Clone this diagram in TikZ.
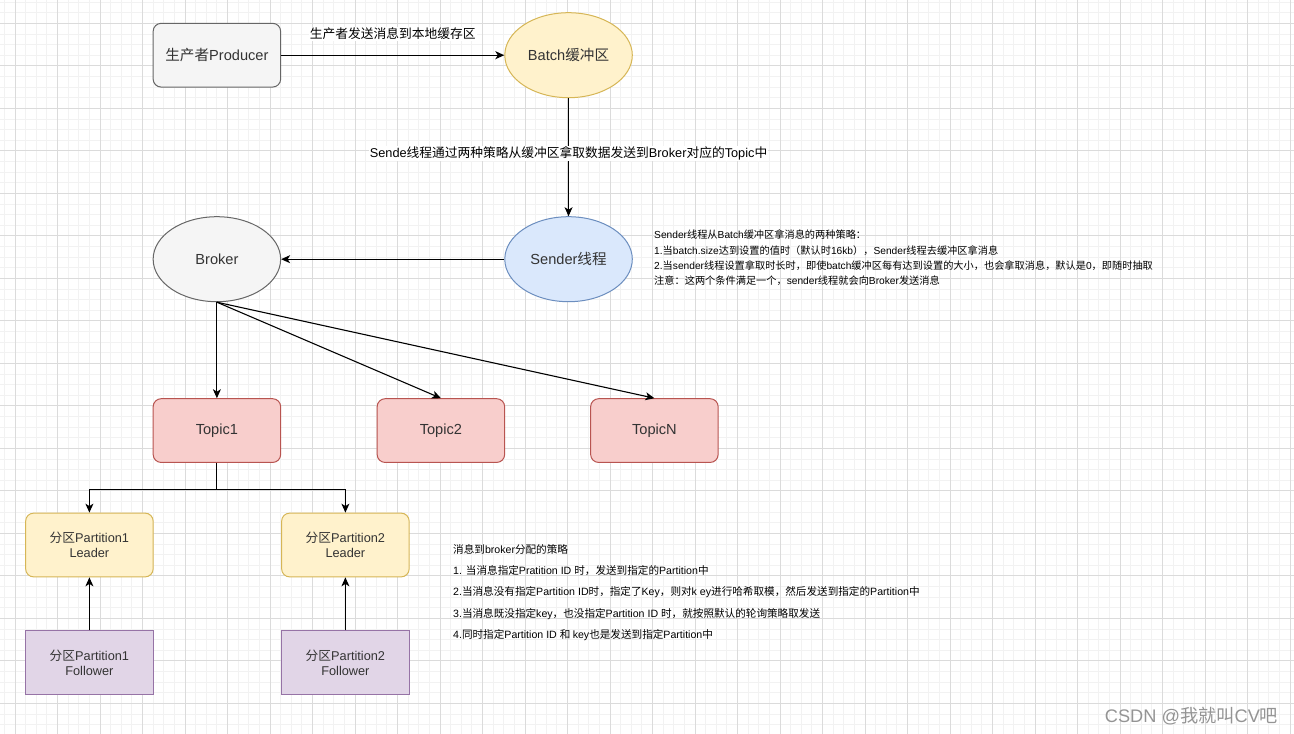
\documentclass[tikz,border=0pt]{standalone}
\usepackage{fontspec}
\setmainfont{Liberation Sans}
\newfontfamily\latinfont{Liberation Sans}
\newfontfamily\cjkfont{Noto Sans CJK SC}
% CJK characters switch to the CJK family, everything else stays Latin
\XeTeXinterchartokenstate=1
\newXeTeXintercharclass\cjkclass
\newcount\cjkcode
\def\setcjkrange#1#2{\cjkcode=#1
  \loop \XeTeXcharclass\cjkcode=\cjkclass \advance\cjkcode by 1
  \ifnum\cjkcode<#2 \repeat}
\setcjkrange{"3000}{"3040}
\setcjkrange{"4E00}{"A000}
\setcjkrange{"FF00}{"FFF0}
\XeTeXinterchartoks 0 \cjkclass = {\cjkfont}
\XeTeXinterchartoks 4095 \cjkclass = {\cjkfont}
\XeTeXinterchartoks \cjkclass 0 = {\latinfont}
\XeTeXinterchartoks 4095 0 = {\latinfont}
\usetikzlibrary{positioning, arrows.meta, shapes.geometric}

\definecolor{greyfill}{HTML}{F5F5F5}
\definecolor{greyline}{HTML}{666666}
\definecolor{yellowfill}{HTML}{FFF2CC}
\definecolor{yellowline}{HTML}{D6B656}
\definecolor{bluefill}{HTML}{DAE8FC}
\definecolor{blueline}{HTML}{6C8EBF}
\definecolor{redfill}{HTML}{F8CECC}
\definecolor{redline}{HTML}{B85450}
\definecolor{purplefill}{HTML}{E1D5E7}
\definecolor{purpleline}{HTML}{9673A6}
\definecolor{textgrey}{HTML}{333333}

\newcommand{\mainfont}{\fontsize{14.6}{17}\selectfont}
\newcommand{\nodefont}{\fontsize{12.75}{15}\selectfont}
\newcommand{\notefont}{\fontsize{10.2}{15.4}\selectfont}

\begin{document}
\begin{tikzpicture}[
    x=1pt, y=-1pt,
    minorgrid/.style={draw=black!5, line width=0.8pt},
    majorgrid/.style={draw=black!14, line width=1pt},
    box/.style={
        draw,
        line width=1pt,
        align=center,
        text=textgrey,
        font=\mainfont,
        inner sep=0pt,
        minimum width=127.5pt,
        minimum height=63.75pt
    },
    roundbox/.style={box, rounded corners=8pt},
    partbox/.style={box, font=\nodefont},
    oval/.style={box, ellipse, minimum height=85pt},
    arrow/.style={
        -{Stealth[length=9pt, width=8pt, inset=2.5pt]},
        line width=1.1pt
    },
    edgelabel/.style={font=\nodefont, fill=white, inner sep=1pt},
    note/.style={font=\notefont, align=left, anchor=west, inner sep=0pt}
]
\useasboundingbox (0,0) rectangle (1294,734);
\fill[white] (0,0) rectangle (1294,734);

% background grid
\foreach \k in {0,...,121}
    \draw[minorgrid] ({4.375+10.625*\k},0) -- ({4.375+10.625*\k},734);
\foreach \k in {0,...,68}
    \draw[minorgrid] (0,{2.05+10.625*\k}) -- (1294,{2.05+10.625*\k});
\foreach \k in {0,...,30}
    \draw[majorgrid] ({15+42.5*\k},0) -- ({15+42.5*\k},734);
\foreach \k in {0,...,16}
    \draw[majorgrid] (0,{23.3+42.5*\k}) -- (1294,{23.3+42.5*\k});

% producer side
\node[roundbox, fill=greyfill, draw=greyline] (producer) at (216.9,55.2)
    {生产者Producer};
\node[oval, fill=yellowfill, draw=yellowline, right=223.15pt of producer] (batch)
    {Batch缓冲区};
\node[oval, fill=bluefill, draw=blueline, below=118pt of batch] (sender)
    {Sender线程};
\node[oval, fill=greyfill, draw=greyline, left=223.15pt of sender] (broker)
    {Broker};

% topics
\node[roundbox, fill=redfill, draw=redline, below=96pt of broker] (topic1)
    {Topic1};
\node[roundbox, fill=redfill, draw=redline, right=95.5pt of topic1] (topic2)
    {Topic2};
\node[roundbox, fill=redfill, draw=redline, right=85pt of topic2] (topicN)
    {TopicN};

% partitions
\node[partbox, rounded corners=8pt, fill=yellowfill, draw=yellowline] (leader1) at (89.4,545)
    {分区Partition1\\Leader};
\node[partbox, rounded corners=8pt, fill=yellowfill, draw=yellowline, right=127.5pt of leader1] (leader2)
    {分区Partition2\\Leader};
\node[partbox, fill=purplefill, draw=purpleline, below=53pt of leader1] (follower1)
    {分区Partition1\\Follower};
\node[partbox, fill=purplefill, draw=purpleline, below=53pt of leader2] (follower2)
    {分区Partition2\\Follower};

% notes
\node[note] (sendernote) at (654,258)
    {Sender线程从Batch缓冲区拿消息的两种策略：\\
     1.当batch.size达到设置的值时（默认时16kb），Sender线程去缓冲区拿消息\\
     2.当sender线程设置拿取时长时，即使batch缓冲区每有达到设置的大小，也会拿取消息，默认是0，即随时抽取\\
     注意：这两个条件满足一个，sender线程就会向Broker发送消息};
\node[note, font=\fontsize{10.6}{21.25}\selectfont] (partnote) at (453,592.5)
    {消息到broker分配的策略\\
     1. 当消息指定Pratition ID 时，发送到指定的Partition中\\
     2.当消息没有指定Partition ID时，指定了Key，则对k ey进行哈希取模，然后发送到指定的Partition中\\
     3.当消息既没指定key，也没指定Partition ID 时，就按照默认的轮询策略取发送\\
     4.同时指定Partition ID 和 key也是发送到指定Partition中};
\node[font=\fontsize{18.2}{20}\selectfont, text=black!42] (mark) at (1191.5,716)
    {CSDN @我就叫CV吧};

% connectors
\draw[arrow] (producer) -- node[edgelabel, above=14pt] {生产者发送消息到本地缓存区} (batch);
\draw[arrow] (batch) -- node[edgelabel, pos=0.47]
    {Sende线程通过两种策略从缓冲区拿取数据发送到Broker对应的Topic中} (sender);
\draw[arrow] (sender) -- (broker);
\draw[arrow] (broker.south) -- (topic1.north);
\draw[arrow] (broker.south) -- (topic2.north);
\draw[arrow] (broker.south) -- (topicN.north);
\draw[arrow] (topic1.south) -- ++(0,26.5) -| (leader1.north);
\draw[arrow] (topic1.south) -- ++(0,26.5) -| (leader2.north);
\draw[arrow] (follower1) -- (leader1);
\draw[arrow] (follower2) -- (leader2);

\end{tikzpicture}
\end{document}
